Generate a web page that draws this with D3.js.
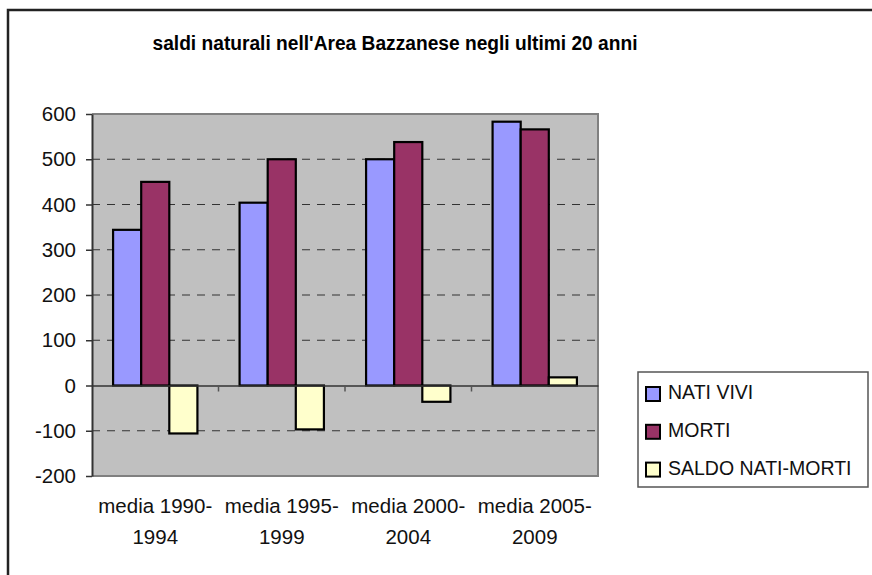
<!DOCTYPE html>
<html>
<head>
<meta charset="utf-8">
<script src="https://cdn.jsdelivr.net/npm/d3@7"></script>
<style>
  html, body { margin: 0; padding: 0; background: #fff; }
  svg { display: block; font-family: "Liberation Sans", Arial, sans-serif; }
</style>
</head>
<body>
<div class="chart"></div>
<script>
// dati
const categories = ["media 1990-1994", "media 1995-1999", "media 2000-2004", "media 2005-2009"];
const catLines = [["media 1990-", "1994"], ["media 1995-", "1999"], ["media 2000-", "2004"], ["media 2005-", "2009"]];
const seriesNames = ["NATI VIVI", "MORTI", "SALDO NATI-MORTI"];
const natiVivi = [344, 404, 500, 583];
const morti = [450, 500, 538, 566];
const saldo = [-106, -97, -36, 18];
const yTicks = [-200, -100, 0, 100, 200, 300, 400, 500, 600];
const title = "saldi naturali nell'Area Bazzanese negli ultimi 20 anni";

const width = 872;
const height = 575;
const plot = { left: 92, right: 598, top: 114, bottom: 476 };

const svg = d3.select(".chart")
    .append("svg")
    .attr("width", width)
    .attr("height", height);

// cornice esterna
svg.append("rect")
    .attr("x", 8).attr("y", 10)
    .attr("width", 900).attr("height", 600)
    .attr("fill", "#fff")
    .attr("stroke", "#222")
    .attr("stroke-width", 2.5);

// titolo
svg.append("text")
    .attr("x", 395).attr("y", 50)
    .attr("text-anchor", "middle")
    .style("font-size", "20px")
    .style("font-weight", "bold")
    .attr("textLength", 485)
    .attr("lengthAdjust", "spacingAndGlyphs")
    .text(title);

// scale
const x0 = d3.scaleBand()
    .domain(categories)
    .range([plot.left, plot.right])
    .padding(0);

const x1 = d3.scaleBand()
    .domain(seriesNames)
    .range([0, x0.bandwidth()])
    .paddingInner(0)
    .paddingOuter(0.75);

const y = d3.scaleLinear()
    .domain([-200, 600])
    .range([plot.bottom, plot.top]);

const color = d3.scaleOrdinal()
    .domain(seriesNames)
    .range(["#9999FF", "#993366", "#FFFFCC"]);

// area del grafico
svg.append("rect")
    .attr("x", plot.left).attr("y", plot.top)
    .attr("width", plot.right - plot.left)
    .attr("height", plot.bottom - plot.top)
    .attr("fill", "#C0C0C0");

// griglia tratteggiata
svg.append("g")
    .selectAll("line")
    .data(yTicks.filter(d => d !== 0 && d !== 600 && d !== -200))
    .join("line")
    .attr("x1", plot.left).attr("x2", plot.right)
    .attr("y1", d => y(d)).attr("y2", d => y(d))
    .attr("stroke", "#333")
    .attr("stroke-width", 1.2)
    .attr("stroke-dasharray", "8,7");

// bordo grigio dell'area
svg.append("path")
    .attr("d", `M${plot.left},${plot.top}H${plot.right}V${plot.bottom}H${plot.left}`)
    .attr("fill", "none")
    .attr("stroke", "#808080")
    .attr("stroke-width", 2);

// barre
const rows = categories.map((c, i) => ({ cat: c, values: [natiVivi[i], morti[i], saldo[i]] }));

svg.append("g")
    .selectAll("g")
    .data(rows)
    .join("g")
    .attr("transform", d => `translate(${x0(d.cat)},0)`)
    .selectAll("rect")
    .data(d => d.values.map((v, j) => ({ key: seriesNames[j], value: v })))
    .join("rect")
    .attr("x", d => x1(d.key))
    .attr("y", d => y(Math.max(0, d.value)))
    .attr("width", x1.bandwidth())
    .attr("height", d => Math.abs(y(d.value) - y(0)))
    .attr("fill", d => color(d.key))
    .attr("stroke", "#000")
    .attr("stroke-width", 2.2);

// asse x (linea dello zero)
const xAxis = d3.axisBottom(x0).tickSize(0).tickFormat("");
const xAxisGroup = svg.append("g")
    .attr("transform", `translate(0,${y(0)})`)
    .call(xAxis);
xAxisGroup.select(".domain").attr("stroke", "#333").attr("stroke-width", 1.5);

// tacche fra le categorie
svg.append("g")
    .selectAll("line")
    .data(categories.slice(1))
    .join("line")
    .attr("x1", d => x0(d)).attr("x2", d => x0(d))
    .attr("y1", y(0)).attr("y2", y(0) + 6)
    .attr("stroke", "#555")
    .attr("stroke-width", 1.5);

// etichette categorie
const catLabels = svg.append("g")
    .selectAll("text")
    .data(categories)
    .join("text")
    .attr("x", d => x0(d) + x0.bandwidth() / 2)
    .attr("text-anchor", "middle")
    .style("font-size", "20.5px")
    .style("fill", "#111");

catLabels.append("tspan")
    .attr("x", d => x0(d) + x0.bandwidth() / 2)
    .attr("y", 513)
    .text((d, i) => catLines[i][0]);

catLabels.append("tspan")
    .attr("x", d => x0(d) + x0.bandwidth() / 2)
    .attr("y", 544)
    .text((d, i) => catLines[i][1]);

// asse y
const yAxis = d3.axisLeft(y)
    .tickValues(yTicks)
    .tickFormat(d => String(d))
    .tickSize(6)
    .tickSizeOuter(0)
    .tickPadding(10);
const yAxisGroup = svg.append("g")
    .attr("transform", `translate(${plot.left},0)`)
    .call(yAxis);

yAxisGroup.select(".domain").attr("stroke", "#333").attr("stroke-width", 2);
yAxisGroup.selectAll(".tick line").attr("stroke", "#333").attr("stroke-width", 1.5);
yAxisGroup.selectAll(".tick text")
    .style("font-size", "20.5px")
    .style("font-family", "'Liberation Sans', Arial, sans-serif")
    .attr("fill", "#111");

// legenda
const legend = svg.append("g").attr("transform", "translate(638,372)");

legend.append("rect")
    .attr("width", 230).attr("height", 115)
    .attr("fill", "#fff")
    .attr("stroke", "#555")
    .attr("stroke-width", 1.5);

const items = legend.selectAll("g")
    .data(seriesNames)
    .join("g")
    .attr("transform", (d, i) => `translate(8,${15 + i * 37.8})`);

items.append("rect")
    .attr("width", 14).attr("height", 14)
    .attr("fill", d => color(d))
    .attr("stroke", "#000")
    .attr("stroke-width", 2);

items.append("text")
    .attr("x", 22).attr("y", 12)
    .style("font-size", "19.5px")
    .style("fill", "#111")
    .text(d => d);
</script>
</body>
</html>
